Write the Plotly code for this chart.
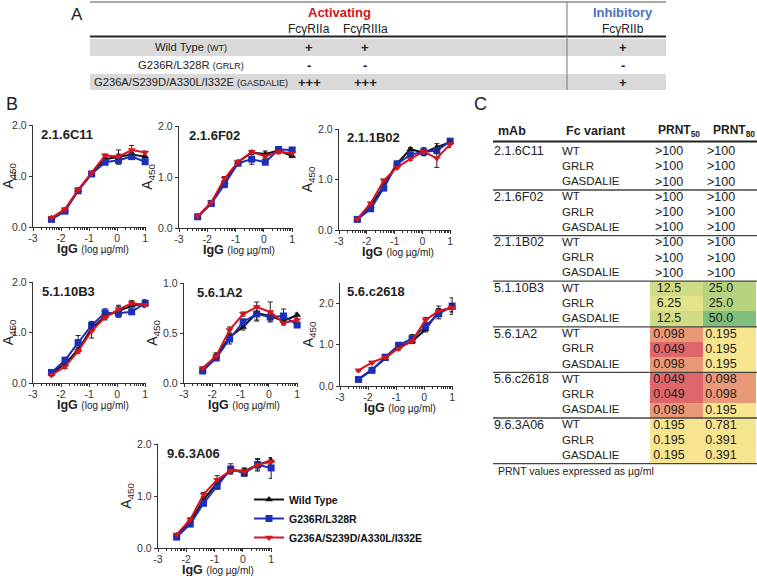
import math
import plotly.graph_objects as go

# ---------------- data ----------------
log_igg = [-2.34, -1.86, -1.39, -0.91, -0.43, 0.05, 0.52, 1.00]

panel_titles = ["2.1.6C11", "2.1.6F02", "2.1.1B02", "5.1.10B3", "5.6.1A2", "5.6.c2618", "9.6.3A06"]
series_names = ["Wild Type", "G236R/L328R", "G236A/S239D/A330L/I332E"]

c11_wt = [0.17, 0.33, 0.72, 1.05, 1.33, 1.38, 1.42, 1.38]
c11_grlr = [0.15, 0.31, 0.71, 1.04, 1.27, 1.31, 1.38, 1.28]
c11_gas = [0.18, 0.35, 0.73, 1.06, 1.40, 1.38, 1.51, 1.46]
c11_wt_err = [0.01, 0.02, 0.02, 0.02, 0.03, 0.13, 0.04, 0.03]
c11_grlr_err = [0.01, 0.02, 0.02, 0.02, 0.03, 0.08, 0.03, 0.03]
c11_gas_err = [0.01, 0.02, 0.02, 0.02, 0.03, 0.05, 0.09, 0.03]

f02_wt = [0.22, 0.49, 0.90, 1.29, 1.48, 1.45, 1.52, 1.41]
f02_grlr = [0.22, 0.48, 0.86, 1.27, 1.35, 1.29, 1.54, 1.53]
f02_gas = [0.23, 0.50, 0.97, 1.30, 1.49, 1.41, 1.49, 1.47]
f02_wt_err = [0.01, 0.02, 0.08, 0.02, 0.03, 0.06, 0.03, 0.03]
f02_grlr_err = [0.01, 0.02, 0.07, 0.02, 0.10, 0.03, 0.03, 0.03]
f02_gas_err = [0.01, 0.02, 0.04, 0.02, 0.03, 0.04, 0.03, 0.03]

b02_wt = [0.21, 0.47, 0.88, 1.32, 1.60, 1.53, 1.64, 1.74]
b02_grlr = [0.21, 0.42, 0.83, 1.31, 1.49, 1.55, 1.57, 1.76]
b02_gas = [0.22, 0.53, 0.98, 1.24, 1.41, 1.55, 1.42, 1.70]
b02_wt_err = [0.01, 0.02, 0.03, 0.03, 0.03, 0.05, 0.07, 0.03]
b02_grlr_err = [0.01, 0.02, 0.03, 0.03, 0.03, 0.04, 0.04, 0.03]
b02_gas_err = [0.01, 0.02, 0.03, 0.03, 0.03, 0.08, 0.18, 0.07]

b3_wt = [0.19, 0.38, 0.66, 1.08, 1.32, 1.42, 1.53, 1.57]
b3_grlr = [0.21, 0.45, 0.80, 1.14, 1.39, 1.38, 1.41, 1.58]
b3_gas = [0.16, 0.32, 0.63, 1.03, 1.30, 1.46, 1.58, 1.55]
b3_wt_err = [0.01, 0.03, 0.04, 0.06, 0.05, 0.12, 0.09, 0.05]
b3_grlr_err = [0.02, 0.06, 0.14, 0.08, 0.08, 0.04, 0.05, 0.07]
b3_gas_err = [0.02, 0.03, 0.04, 0.14, 0.05, 0.05, 0.05, 0.05]

a2_wt = [0.13, 0.27, 0.46, 0.56, 0.70, 0.67, 0.62, 0.68]
a2_grlr = [0.12, 0.25, 0.44, 0.61, 0.69, 0.66, 0.67, 0.58]
a2_gas = [0.15, 0.27, 0.53, 0.69, 0.76, 0.71, 0.60, 0.63]
a2_wt_err = [0.01, 0.03, 0.03, 0.03, 0.07, 0.03, 0.03, 0.02]
a2_grlr_err = [0.01, 0.02, 0.05, 0.03, 0.07, 0.04, 0.07, 0.02]
a2_gas_err = [0.01, 0.03, 0.03, 0.02, 0.05, 0.10, 0.02, 0.02]

c2618_wt = [0.17, 0.40, 0.66, 0.95, 1.08, 1.37, 1.82, 1.90]
c2618_grlr = [0.16, 0.38, 0.70, 0.99, 1.15, 1.45, 1.75, 1.94]
c2618_gas = [0.38, 0.57, 0.70, 0.91, 1.09, 1.60, 1.82, 1.90]
c2618_wt_err = [0.02, 0.03, 0.04, 0.04, 0.05, 0.06, 0.12, 0.10]
c2618_grlr_err = [0.02, 0.03, 0.04, 0.04, 0.10, 0.06, 0.12, 0.20]
c2618_gas_err = [0.02, 0.03, 0.04, 0.04, 0.05, 0.06, 0.06, 0.10]

a06_wt = [0.24, 0.50, 0.93, 1.25, 1.50, 1.48, 1.60, 1.68]
a06_grlr = [0.21, 0.46, 0.86, 1.19, 1.52, 1.44, 1.60, 1.54]
a06_gas = [0.26, 0.55, 1.03, 1.31, 1.49, 1.47, 1.60, 1.66]
a06_wt_err = [0.02, 0.03, 0.04, 0.08, 0.05, 0.06, 0.10, 0.05]
a06_grlr_err = [0.02, 0.03, 0.04, 0.06, 0.10, 0.06, 0.12, 0.20]
a06_gas_err = [0.02, 0.03, 0.04, 0.08, 0.05, 0.06, 0.06, 0.05]

y_max = [2.0, 2.0, 2.0, 2.0, 1.0, 2.5, 2.0]

# Panel A table
fc_variant_long = ["Wild Type", "G236R/L328R", "G236A/S239D/A330L/I332E"]
fc_variant_abbr = ["(WT)", "(GRLR)", "(GASDALIE)"]
receptor_names = ["FcγRIIa", "FcγRIIIa", "FcγRIIb"]
fcgr2a = ["+", "-", "+++"]
fcgr3a = ["+", "-", "+++"]
fcgr2b = ["+", "-", "+"]

# Panel C table
mab_names = ["2.1.6C11", "2.1.6F02", "2.1.1B02", "5.1.10B3", "5.6.1A2", "5.6.c2618", "9.6.3A06"]
fc_variants = ["WT", "GRLR", "GASDALIE"]
prnt50 = [">100", ">100", ">100", ">100", ">100", ">100", ">100", ">100", ">100",
          "12.5", "6.25", "12.5", "0.098", "0.049", "0.098", "0.049", "0.049", "0.098",
          "0.195", "0.195", "0.195"]
prnt80 = [">100", ">100", ">100", ">100", ">100", ">100", ">100", ">100", ">100",
          "25.0", "25.0", "50.0", "0.195", "0.195", "0.195", "0.098", "0.098", "0.195",
          "0.781", "0.391", "0.391"]

# ---------------- layout helpers ----------------
W, H = 757, 576
FONT = "Arial, Liberation Sans, sans-serif"

series_y = [
    (c11_wt, c11_grlr, c11_gas), (f02_wt, f02_grlr, f02_gas), (b02_wt, b02_grlr, b02_gas),
    (b3_wt, b3_grlr, b3_gas), (a2_wt, a2_grlr, a2_gas), (c2618_wt, c2618_grlr, c2618_gas),
    (a06_wt, a06_grlr, a06_gas)]
series_e = [
    (c11_wt_err, c11_grlr_err, c11_gas_err), (f02_wt_err, f02_grlr_err, f02_gas_err),
    (b02_wt_err, b02_grlr_err, b02_gas_err), (b3_wt_err, b3_grlr_err, b3_gas_err),
    (a2_wt_err, a2_grlr_err, a2_gas_err), (c2618_wt_err, c2618_grlr_err, c2618_gas_err),
    (a06_wt_err, a06_grlr_err, a06_gas_err)]

# pixel boxes of each plot area: (left, right, top, bottom)
boxes = [(33, 146, 125, 227), (179, 293, 126, 228), (339, 451, 129, 230),
         (33, 146, 282, 383), (184, 298, 283, 383), (340, 453, 283, 386),
         (158, 272, 444, 548)]

colors = ["#111111", "#1c2fb8", "#d8141e"]
symbols = ["triangle-up", "square", "triangle-down"]
msizes = [7, 7, 7]

fig = go.Figure()

minor_vals = []
for n in range(-3, 1):
    for k in range(2, 10):
        minor_vals.append(n + math.log10(k))

layout = dict(width=W, height=H, margin=dict(l=0, r=0, t=0, b=0, autoexpand=False),
              paper_bgcolor="white", plot_bgcolor="rgba(0,0,0,0)",
              font=dict(family=FONT, color="#222"), showlegend=True)

annotations = []
shapes = []

def txt(x, y, text, size=12, color="#222", xanchor="center", bold=False, family=FONT):
    annotations.append(dict(x=x, y=y, xref="x8", yref="y8", text=f"<b>{text}</b>" if bold else text,
                            showarrow=False, xanchor=xanchor, yanchor="middle",
                            font=dict(size=size, color=color, family=family)))

def hline(x0, x1, y, width=1, color="#444"):
    shapes.append(dict(type="line", xref="x8", yref="y8", x0=x0, x1=x1, y0=y, y1=y,
                       line=dict(color=color, width=width)))

for i in range(7):
    l, r, t, b = boxes[i]
    xa = "xaxis" if i == 0 else f"xaxis{i+1}"
    ya = "yaxis" if i == 0 else f"yaxis{i+1}"
    xr = "x" if i == 0 else f"x{i+1}"
    yr = "y" if i == 0 else f"y{i+1}"
    layout[xa] = dict(domain=[l / W, r / W], anchor=yr, range=[-3, 1.03], automargin=False,
                      tickvals=[-3, -2, -1, 0, 1], ticktext=["-3", "-2", "-1", "0", "1"],
                      ticks="outside", ticklen=3, tickwidth=1.2, tickcolor="#333",
                      ticklabelstandoff=-2,
                      showline=True, linecolor="#333", linewidth=1.4, showgrid=False, zeroline=False,
                      tickfont=dict(size=10.5, color="#333"),
                      minor=dict(tickmode="array", tickvals=minor_vals, ticks="outside",
                                 ticklen=2, tickwidth=1, tickcolor="#333", showgrid=False),
                      fixedrange=True)
    ymx = y_max[i]
    layout[ya] = dict(domain=[1 - b / H, 1 - t / H], anchor=xr, range=[0, ymx], automargin=False,
                      tickvals=[0, 0.5, 1.0] if ymx == 1.0 else [0, 1.0, 2.0],
                      tickformat=".1f", ticks="outside", ticklen=3, tickwidth=1.2, tickcolor="#333",
                      showline=True, linecolor="#333", linewidth=1.4, showgrid=False, zeroline=False,
                      tickfont=dict(size=10.5, color="#333"),
                      title=dict(text="A<sub>450</sub>", font=dict(size=14, color="#222"), standoff=2),
                      fixedrange=True)
    # x-axis title
    txt((l + r) / 2 + 3, b + 22, "<b>IgG</b> <span style='font-size:10px'>(log µg/ml)</span>", size=12.5)
    for s in range(3):
        fig.add_trace(go.Scatter(
            x=log_igg, y=series_y[i][s], xaxis=xr, yaxis=yr, mode="lines+markers",
            name=series_names[s], legendgroup=series_names[s], showlegend=(i == 6),
            line=dict(color=colors[s], width=2),
            marker=dict(symbol=symbols[s], size=msizes[s], color=colors[s]),
            error_y=dict(type="data", array=series_e[i][s], color="#222", thickness=1, width=2.5),
            cliponaxis=False))

# overlay axis in pixel units for the tables
layout["xaxis8"] = dict(domain=[0, 1], range=[0, W], visible=False, anchor="y8",
                        fixedrange=True, automargin=False)
layout["yaxis8"] = dict(domain=[0, 1], range=[H, 0], visible=False, anchor="x8",
                        fixedrange=True, automargin=False)

# subplot titles
title_off = [(6, 9), (8, 9), (6, 8), (7, 9), (11, 9), (5, 8), (7, 9)]
for i in range(7):
    l, r, t, b = boxes[i]
    txt(l + title_off[i][0], t + title_off[i][1], panel_titles[i], size=13, bold=True, xanchor="left")

# ---------------- Panel A ----------------
txt(77, 14, "A", size=17)
A_left, A_right = 90, 666
shapes.append(dict(type="rect", xref="x8", yref="y8", x0=A_left, x1=A_right, y0=39, y1=56,
                   fillcolor="#d9d9d9", line=dict(width=0), layer="below"))
shapes.append(dict(type="rect", xref="x8", yref="y8", x0=A_left, x1=A_right, y0=74, y1=90,
                   fillcolor="#d9d9d9", line=dict(width=0), layer="below"))
hline(A_left, A_right, 2, width=1.2, color="#555")
hline(A_left, A_right, 36.5, width=2.2, color="#222")
shapes.append(dict(type="line", xref="x8", yref="y8", x0=567, x1=567, y0=2, y1=90,
                   line=dict(color="#777", width=1)))
txt(339, 12, "Activating", size=13, color="#d0141c", bold=True)
txt(623, 12, "Inhibitory", size=13, color="#4f73b8", bold=True)
recep_x = [309, 365, 623]
for k, name in enumerate(receptor_names):
    txt(recep_x[k], 29, name, size=12)
row_y = [47, 65, 82]
cols_vals = [fcgr2a, fcgr3a, fcgr2b]
for j in range(3):
    txt(191, row_y[j], f"{fc_variant_long[j]} <span style='font-size:9px'>{fc_variant_abbr[j]}</span>",
        size=11.2)
    for k in range(3):
        txt(recep_x[k], row_y[j], cols_vals[k][j], size=13, bold=True)

# ---------------- Panel B label ----------------
txt(12, 104, "B", size=18)

# ---------------- Panel C ----------------
txt(480, 104, "C", size=18)
C_left, C_right = 493, 757
row0, row_h = 152, 15.2
n_rows = len(prnt50)
row_centers = [row0 + row_h * k for k in range(n_rows)]

def to_val(s):
    return None if s.startswith(">") else math.log10(float(s))

z = [[to_val(prnt50[k]), to_val(prnt80[k])] for k in range(n_rows)]
cell_x = [676.5, 729.5]
fig.add_trace(go.Heatmap(
    x=cell_x, y=row_centers, z=z, xaxis="x8", yaxis="y8", showscale=False, hoverinfo="skip",
    zmin=math.log10(0.049), zmax=math.log10(50),
    colorscale=[[0.0, "#df676b"], [0.1, "#e99878"], [0.2, "#f7e58f"], [0.4, "#f4e68c"],
                [0.7, "#e3e389"], [0.8, "#d0dc85"], [0.9, "#b6d37f"], [1.0, "#7fbe7b"]],
    showlegend=False))

var_col = [fc_variants[k % 3] for k in range(n_rows)]
fig.add_trace(go.Scatter(x=[494] * len(mab_names), y=row_centers[::3], text=mab_names, mode="text",
                         textposition="middle right", xaxis="x8", yaxis="y8", showlegend=False,
                         hoverinfo="skip", textfont=dict(size=12.5, color="#222", family=FONT)))
fig.add_trace(go.Scatter(x=[562] * n_rows, y=row_centers, text=var_col, mode="text",
                         textposition="middle right", xaxis="x8", yaxis="y8", showlegend=False,
                         hoverinfo="skip", textfont=dict(size=11.5, color="#222", family=FONT)))
fig.add_trace(go.Scatter(x=[669] * n_rows, y=row_centers, text=prnt50, mode="text",
                         textposition="middle center", xaxis="x8", yaxis="y8", showlegend=False,
                         hoverinfo="skip", textfont=dict(size=12.5, color="#222", family=FONT)))
fig.add_trace(go.Scatter(x=[721] * n_rows, y=row_centers, text=prnt80, mode="text",
                         textposition="middle center", xaxis="x8", yaxis="y8", showlegend=False,
                         hoverinfo="skip", textfont=dict(size=12.5, color="#222", family=FONT)))

txt(496, 131, "mAb", size=12.5, bold=True, xanchor="left")
txt(564, 131, "Fc variant", size=12.5, bold=True, xanchor="left")
txt(679, 131, "PRNT<sub>50</sub>", size=12, bold=True)
txt(734, 131, "PRNT<sub>80</sub>", size=12, bold=True)
hline(C_left, C_right, 141.5, width=2.2, color="#222")
for g in range(1, len(mab_names) + 1):
    hline(C_left, C_right, row0 + row_h * (3 * g) - row_h / 2, width=1.3, color="#444")
txt(496, 471, "PRNT values expressed as µg/ml", size=10.5, xanchor="left")

layout["annotations"] = annotations
layout["shapes"] = shapes
layout["legend"] = dict(x=249 / W, y=1 - 485 / H, xanchor="left", yanchor="top",
                        bgcolor="rgba(0,0,0,0)", font=dict(size=10.5, color="#111", family=FONT),
                        tracegroupgap=0)
fig.update_layout(**layout)
for tr in fig.data:
    if tr.showlegend:
        tr.name = f"<b>{tr.name}</b>"

fig.write_html("out.html", config={"displayModeBar": False},
               post_script="document.body.style.margin='0';document.body.style.overflow='hidden';")
